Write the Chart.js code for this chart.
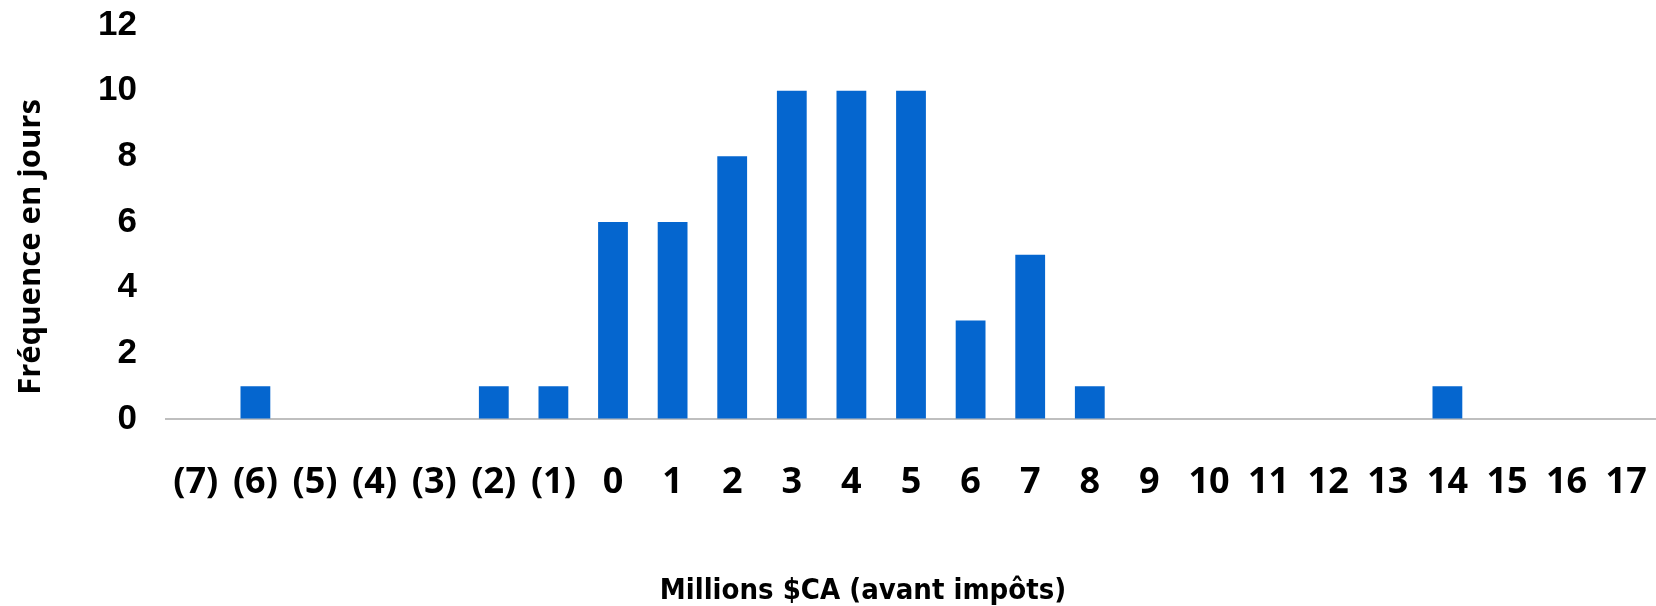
<!DOCTYPE html>
<html lang="fr">
<head>
<meta charset="utf-8">
<title>Fréquence en jours</title>
<script src="https://cdn.jsdelivr.net/npm/chart.js@4/dist/chart.umd.min.js"></script>
<style>
  html, body { margin: 0; padding: 0; background: #ffffff; }
  #wrap { width: 1656px; height: 606px; position: relative; }
</style>
</head>
<body>
<div id="wrap"><canvas id="chart"></canvas></div>
<script>
// Bins of pre-tax result, in millions of CAD (negatives shown in parentheses)
const categories = ['(7)', '(6)', '(5)', '(4)', '(3)', '(2)', '(1)', '0', '1', '2', '3', '4',
                    '5', '6', '7', '8', '9', '10', '11', '12', '13', '14', '15', '16', '17'];
// Number of days falling in each bin
const frequencies = [0, 1, 0, 0, 0, 1, 1, 6, 6, 8, 10, 10, 10, 3, 5, 1, 0, 0, 0, 0, 0, 1, 0, 0, 0];
// Vertical axis
const yMin = 0;
const yMax = 12;
const yStep = 2;
// Axis titles
const xTitle = 'Millions $CA (avant impôts)';
const yTitle = 'Fréquence en jours';

const BAR_BLUE = '#0566cf';

// Draws the two axis titles at their own positions around the plot
const axisTitles = {
  id: 'axisTitles',
  afterDraw(chart, args, opts) {
    const { ctx, chartArea } = chart;
    ctx.save();
    ctx.fillStyle = '#000000';
    ctx.textAlign = 'center';
    ctx.textBaseline = 'middle';
    // horizontal title
    ctx.font = opts.x.font;
    ctx.fillText(opts.x.text, chartArea.left + opts.x.dx, chartArea.bottom + opts.x.dy);
    // vertical title
    ctx.translate(opts.y.dx, chartArea.top + opts.y.dy);
    ctx.rotate(-Math.PI / 2);
    ctx.font = opts.y.font;
    ctx.fillText(opts.y.text, 0, 0);
    ctx.restore();
  }
};

// Invisible tick marks keep the labels away from the plot
const hiddenTicks = (len) => ({
  display: true,
  color: 'rgba(0,0,0,0)',
  drawOnChartArea: false,
  drawTicks: true,
  tickLength: len
});

new Chart(document.getElementById('chart'), {
  type: 'bar',
  data: {
    labels: categories,
    datasets: [{
      data: frequencies,
      backgroundColor: BAR_BLUE,
      borderWidth: 0,
      barPercentage: 0.5,
      categoryPercentage: 1.0
    }]
  },
  plugins: [axisTitles],
  options: {
    responsive: true,
    maintainAspectRatio: false,
    animation: false,
    layout: { padding: { top: 25, right: 0, bottom: 0, left: 0 } },
    plugins: {
      legend: { display: false },
      tooltip: { enabled: false },
      axisTitles: {
        x: { text: xTitle, font: 'bold 29px "DejaVu Sans Condensed", "DejaVu Sans", sans-serif', dx: 697, dy: 172 },
        y: { text: yTitle, font: 'bold 31px "Open Sans", sans-serif', dx: 31, dy: 222 }
      }
    },
    scales: {
      x: {
        offset: true,
        grid: hiddenTicks(42),
        border: { display: true, color: '#bfbfbf', width: 2 },
        ticks: {
          color: '#000000',
          padding: 0,
          maxRotation: 0,
          autoSkip: false,
          font: { family: '"Open Sans", sans-serif', size: 36, weight: 'bold' }
        },
        afterFit(scale) { scale.height = 187; }
      },
      y: {
        min: yMin,
        max: yMax,
        grid: hiddenTicks(29),
        border: { display: false },
        ticks: {
          stepSize: yStep,
          color: '#000000',
          padding: 0,
          font: { family: '"Liberation Sans", Arial, sans-serif', size: 35, weight: 'bold' }
        },
        afterFit(scale) { scale.width = 166; }
      }
    }
  }
});
</script>
</body>
</html>
